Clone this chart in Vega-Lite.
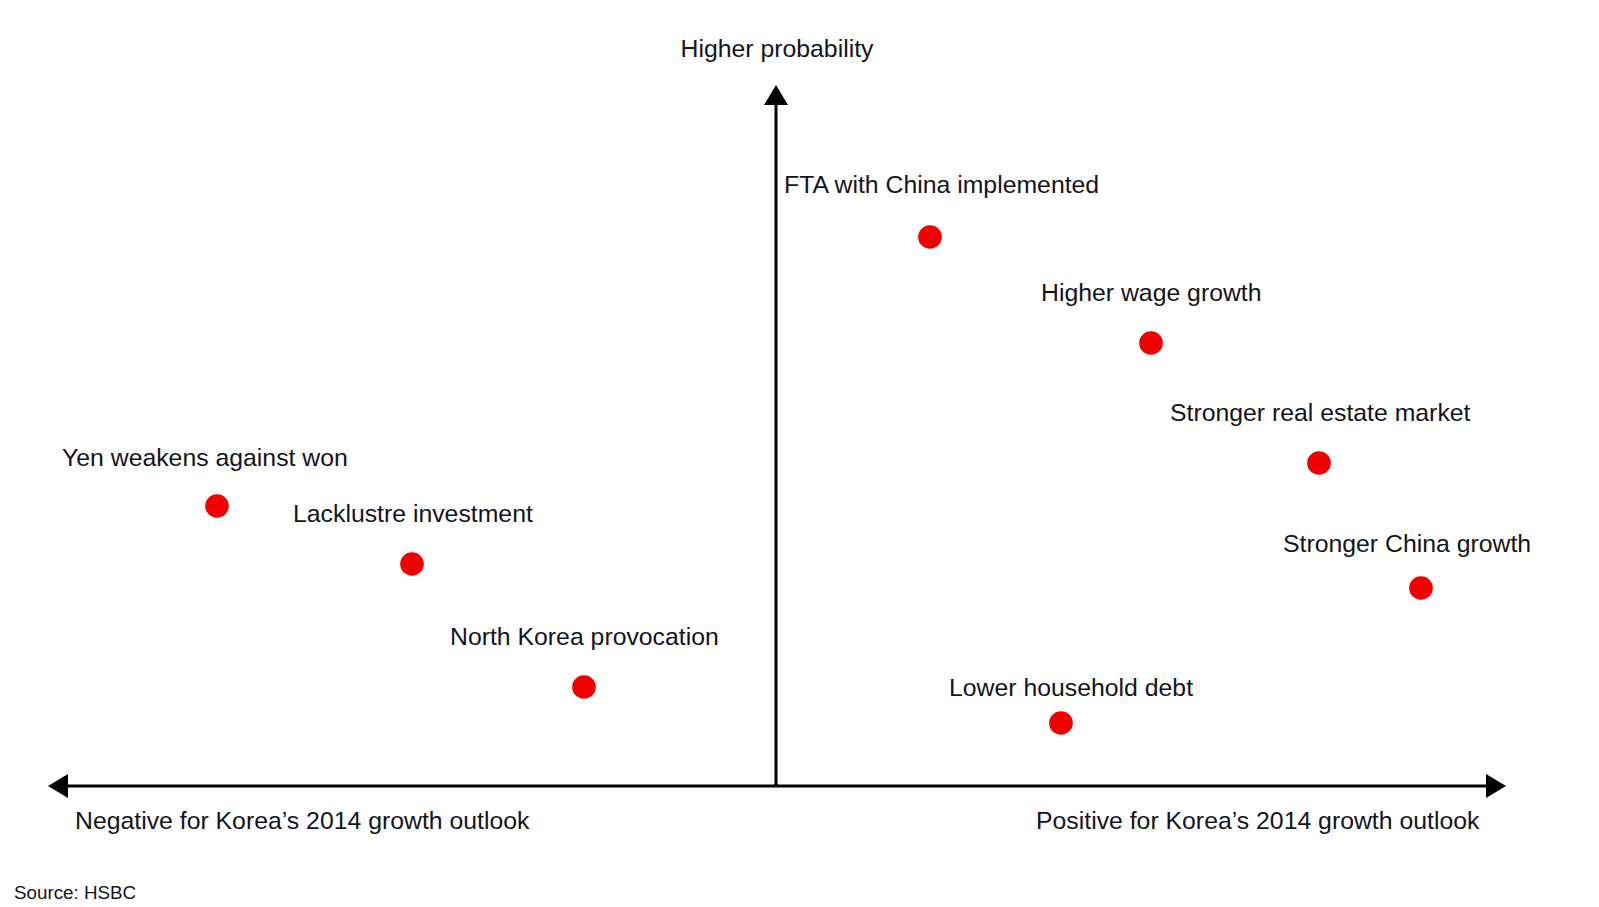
{
  "$schema": "https://vega.github.io/schema/vega-lite/v6.json",
  "width": 1599,
  "height": 907,
  "padding": 0,
  "autosize": {"type": "fit", "contains": "padding"},
  "background": "white",
  "config": {"view": {"stroke": null}},
  "datasets": {
    "risks": [
      {"event": "FTA with China implemented", "impact": 15.4, "prob": 54.9, "lx": 0.8, "ly": 60.0},
      {"event": "Higher wage growth", "impact": 37.5, "prob": 44.3, "lx": 26.5, "ly": 49.2},
      {"event": "Stronger real estate market", "impact": 54.3, "prob": 32.3, "lx": 39.4, "ly": 37.2},
      {"event": "Stronger China growth", "impact": 64.5, "prob": 19.8, "lx": 50.7, "ly": 24.1},
      {"event": "Lower household debt", "impact": 28.5, "prob": 6.3, "lx": 17.3, "ly": 9.7},
      {"event": "Yen weakens against won", "impact": -55.9, "prob": 28.0, "lx": -71.4, "ly": 32.7},
      {"event": "Lacklustre investment", "impact": -36.4, "prob": 22.2, "lx": -48.3, "ly": 27.1},
      {"event": "North Korea provocation", "impact": -19.2, "prob": 9.9, "lx": -32.6, "ly": 14.8}
    ],
    "axes": [
      {"x": -71.5, "x2": 71.7, "y": 0, "y2": 0},
      {"x": 0, "x2": 0, "y": 0, "y2": 68.8}
    ],
    "heads": [
      {"x": 73.0, "y": 0, "dir": "right"},
      {"x": -72.8, "y": 0, "dir": "left"},
      {"x": 0, "y": 70.1, "dir": "up"}
    ],
    "notes": [
      {"text": "Negative for Korea’s 2014 growth outlook", "x": -70.1, "y": -3.6},
      {"text": "Positive for Korea’s 2014 growth outlook", "x": 26.0, "y": -3.6}
    ]
  },
  "layer": [
    {
      "data": {"name": "axes"},
      "mark": {"type": "rule", "color": "#000000", "strokeWidth": 3},
      "encoding": {
        "x": {"field": "x", "type": "quantitative", "scale": {"domain": [-77.6, 82.3]}, "axis": null},
        "x2": {"field": "x2"},
        "y": {"field": "y", "type": "quantitative", "scale": {"domain": [-12.1, 78.6]}, "axis": null},
        "y2": {"field": "y2"}
      }
    },
    {
      "data": {"name": "heads"},
      "transform": [{"filter": "datum.dir === 'right'"}],
      "mark": {"type": "point", "filled": true, "color": "#000000", "opacity": 1, "size": 1600, "shape": "M0,0 L-1,-0.6 L-1,0.6 Z"},
      "encoding": {
        "x": {"field": "x", "type": "quantitative", "scale": {"domain": [-77.6, 82.3]}, "axis": null},
        "y": {"field": "y", "type": "quantitative", "scale": {"domain": [-12.1, 78.6]}, "axis": null}
      }
    },
    {
      "data": {"name": "heads"},
      "transform": [{"filter": "datum.dir === 'left'"}],
      "mark": {"type": "point", "filled": true, "color": "#000000", "opacity": 1, "size": 1600, "shape": "M0,0 L1,-0.6 L1,0.6 Z"},
      "encoding": {
        "x": {"field": "x", "type": "quantitative", "scale": {"domain": [-77.6, 82.3]}, "axis": null},
        "y": {"field": "y", "type": "quantitative", "scale": {"domain": [-12.1, 78.6]}, "axis": null}
      }
    },
    {
      "data": {"name": "heads"},
      "transform": [{"filter": "datum.dir === 'up'"}],
      "mark": {"type": "point", "filled": true, "color": "#000000", "opacity": 1, "size": 1600, "shape": "M0,0 L-0.6,1 L0.6,1 Z"},
      "encoding": {
        "x": {"field": "x", "type": "quantitative", "scale": {"domain": [-77.6, 82.3]}, "axis": null},
        "y": {"field": "y", "type": "quantitative", "scale": {"domain": [-12.1, 78.6]}, "axis": null}
      }
    },
    {
      "data": {"name": "risks"},
      "mark": {"type": "circle", "color": "#f20000", "opacity": 1, "size": 560},
      "encoding": {
        "x": {"field": "impact", "type": "quantitative", "scale": {"domain": [-77.6, 82.3]}, "axis": null},
        "y": {"field": "prob", "type": "quantitative", "scale": {"domain": [-12.1, 78.6]}, "axis": null}
      }
    },
    {
      "data": {"name": "risks"},
      "mark": {"type": "text", "align": "left", "baseline": "middle", "font": "Liberation Sans, Arial, sans-serif", "fontSize": 24.8, "color": "#14141e"},
      "encoding": {
        "x": {"field": "lx", "type": "quantitative", "scale": {"domain": [-77.6, 82.3]}, "axis": null},
        "y": {"field": "ly", "type": "quantitative", "scale": {"domain": [-12.1, 78.6]}, "axis": null},
        "text": {"field": "event"}
      }
    },
    {
      "data": {"name": "notes"},
      "mark": {"type": "text", "align": "left", "baseline": "middle", "font": "Liberation Sans, Arial, sans-serif", "fontSize": 24.8, "color": "#14141e"},
      "encoding": {
        "x": {"field": "x", "type": "quantitative", "scale": {"domain": [-77.6, 82.3]}, "axis": null},
        "y": {"field": "y", "type": "quantitative", "scale": {"domain": [-12.1, 78.6]}, "axis": null},
        "text": {"field": "text"}
      }
    },
    {
      "data": {"values": [{"text": "Higher probability", "x": 0.1, "y": 73.6}]},
      "mark": {"type": "text", "align": "center", "baseline": "middle", "font": "Liberation Sans, Arial, sans-serif", "fontSize": 24.8, "color": "#14141e"},
      "encoding": {
        "x": {"field": "x", "type": "quantitative", "scale": {"domain": [-77.6, 82.3]}, "axis": null},
        "y": {"field": "y", "type": "quantitative", "scale": {"domain": [-12.1, 78.6]}, "axis": null},
        "text": {"field": "text"}
      }
    },
    {
      "data": {"values": [{"text": "Source: HSBC", "x": -76.2, "y": -10.7}]},
      "mark": {"type": "text", "align": "left", "baseline": "middle", "font": "Liberation Sans, Arial, sans-serif", "fontSize": 18.8, "color": "#14141e"},
      "encoding": {
        "x": {"field": "x", "type": "quantitative", "scale": {"domain": [-77.6, 82.3]}, "axis": null},
        "y": {"field": "y", "type": "quantitative", "scale": {"domain": [-12.1, 78.6]}, "axis": null},
        "text": {"field": "text"}
      }
    }
  ]
}
